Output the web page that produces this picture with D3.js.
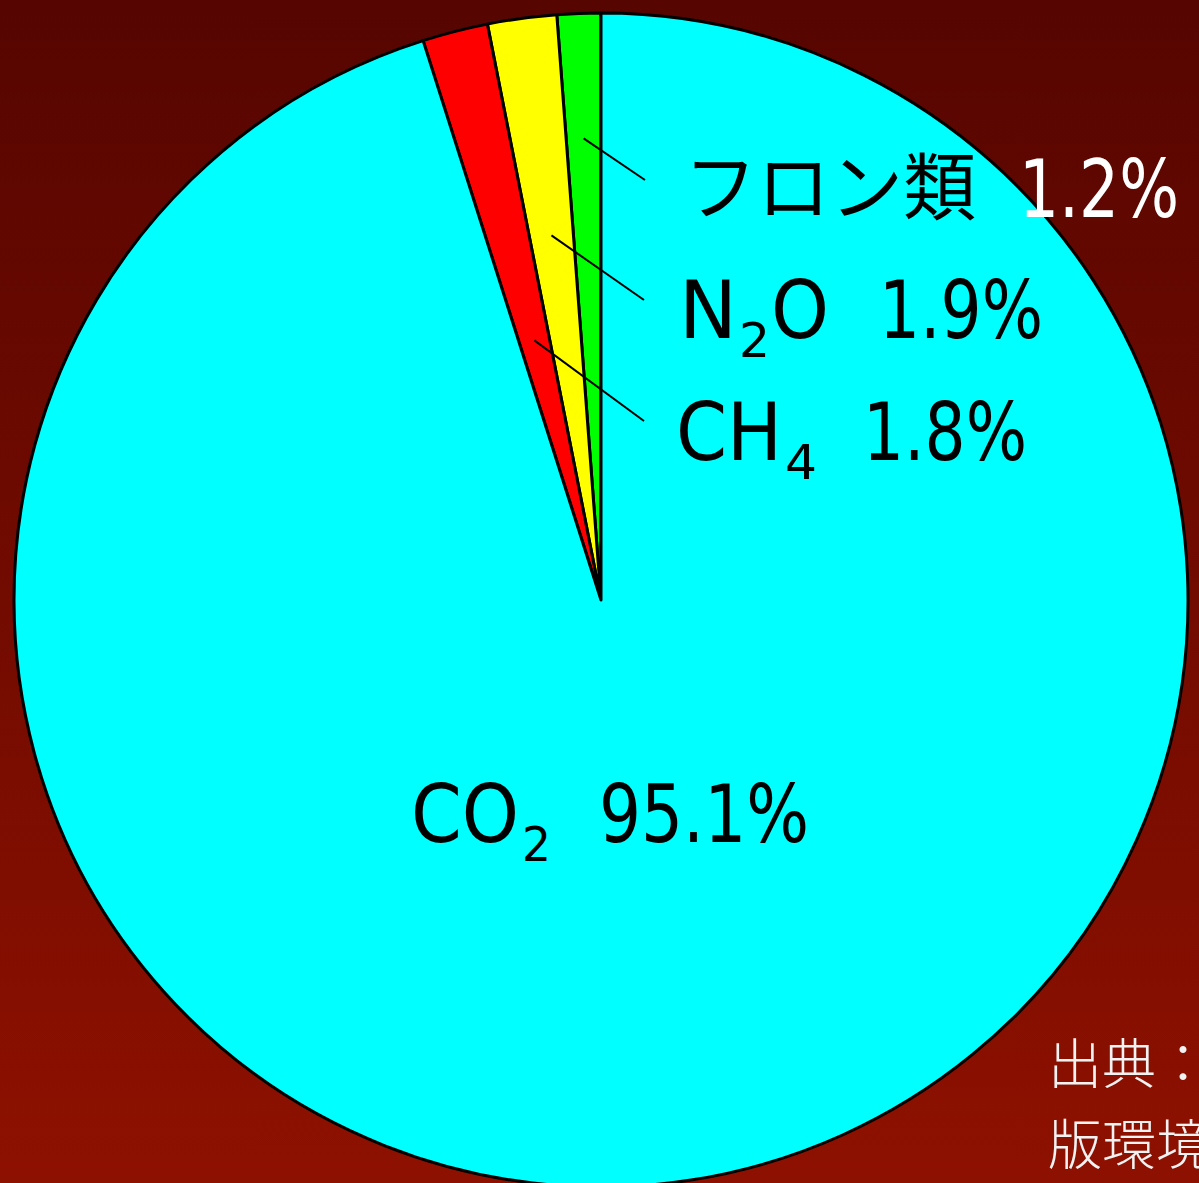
<!DOCTYPE html>
<html>
<head>
<meta charset="utf-8">
<script src="https://cdn.jsdelivr.net/npm/d3@7"></script>
<style>
  html, body { margin: 0; padding: 0; overflow: hidden; }
  svg { display: block; }
</style>
</head>
<body>
<svg id="chart" width="1199" height="1183"></svg>
<script>
// Greenhouse gas shares (%), drawn counter-clockwise from 12 o'clock
const gases = ["フロン類", "N2O", "CH4", "CO2"];
const shares = [1.2, 1.9, 1.8, 95.1];
const colors = ["#00ff00", "#ffff00", "#ff0000", "#00ffff"];
const shareLabels = ["1.2%", "1.9%", "1.8%", "95.1%"];
const sourceLines = ["出典：", "版環境"];

const W = 1199, H = 1183;
const cx = 601, cy = 600, R = 587;
const svg = d3.select("#chart");

// background gradient
const defs = svg.append("defs");
const grad = defs.append("linearGradient").attr("id", "bg")
  .attr("x1", 0).attr("y1", 0).attr("x2", 0).attr("y2", 1);
grad.append("stop").attr("offset", "0%").attr("stop-color", "#560500");
grad.append("stop").attr("offset", "100%").attr("stop-color", "#8e1100");
svg.append("rect").attr("width", W).attr("height", H).attr("fill", "url(#bg)");

const data = gases.map((g, i) => ({ gas: g, value: shares[i], color: colors[i], label: shareLabels[i] }));

const pie = d3.pie().value(d => d.value).sort(null)
  .startAngle(0).endAngle(-2 * Math.PI);
const arcs = pie(data);
const arc = d3.arc().innerRadius(0).outerRadius(R);

const g = svg.append("g").attr("transform", `translate(${cx},${cy})`);
g.selectAll("path.slice").data(arcs).join("path")
  .attr("class", "slice")
  .attr("d", arc)
  .attr("fill", d => d.data.color)
  .attr("stroke", "#000")
  .attr("stroke-width", 3)
  .attr("stroke-linejoin", "round");

// leader lines from inside the thin slices to their labels
const leaderRadius = [462, 368, 268];
const leaderEnd = [[645, 180], [644, 300], [644, 421]];
arcs.slice(0, 3).forEach((a, i) => {
  const mid = (a.startAngle + a.endAngle) / 2;
  const x0 = cx + leaderRadius[i] * Math.sin(mid);
  const y0 = cy - leaderRadius[i] * Math.cos(mid);
  svg.append("line")
    .attr("x1", x0).attr("y1", y0)
    .attr("x2", leaderEnd[i][0]).attr("y2", leaderEnd[i][1])
    .attr("stroke", "#000").attr("stroke-width", 2);
});

const latinFont = "'DejaVu Sans', 'Noto Sans', sans-serif";
const cjkFont = "'Noto Sans CJK JP', sans-serif";
const mainFs = 80, subFs = 48, subDrop = 19;

// one text run fitted to a given left edge and width
function run(txt, x, w, baseline, opts = {}) {
  const sub = !!opts.sub;
  svg.append("text")
    .attr("x", x)
    .attr("y", baseline + (sub ? subDrop : 0))
    .attr("font-family", opts.font || latinFont)
    .attr("font-size", opts.size || (sub ? subFs : mainFs))
    .attr("fill", opts.fill || "#000")
    .attr("textLength", w)
    .attr("lengthAdjust", "spacingAndGlyphs")
    .text(txt);
}

// フロン類 1.2%
run(data[0].gas, 684, 292, 214, { font: cjkFont, size: 74 });
run(data[0].label, 1019, 160, 217, { fill: "#fff" });

// N₂O 1.9%
run("N", 679, 58, 338);
run("2", 739, 31, 338, { sub: true });
run("O", 771, 58, 338);
run(data[1].label, 879, 164, 338);

// CH₄ 1.8%
run("CH", 676, 106, 460);
run("4", 785, 32, 460, { sub: true });
run(data[2].label, 863, 164, 460);

// CO₂ 95.1%
run("CO", 411, 108, 842);
run("2", 522, 29, 842, { sub: true });
run(data[3].label, 599, 210, 842);

// source note, partly beyond the right edge
svg.append("g").selectAll("text").data(sourceLines).join("text")
  .attr("x", 1048)
  .attr("y", (d, i) => 1084 + i * 81)
  .attr("font-family", cjkFont)
  .attr("font-weight", 300)
  .attr("font-size", 54)
  .attr("fill", "#f2f2f2")
  .text(d => d);
</script>
</body>
</html>
